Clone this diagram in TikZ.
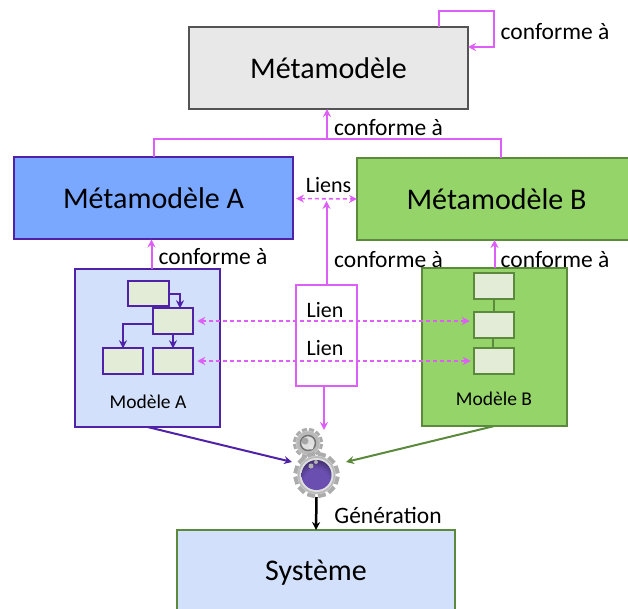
\documentclass[tikz,border=0pt]{standalone}
\usepackage{fontspec}
\setmainfont{Carlito}
\usepackage{tikz}
\usetikzlibrary{arrows.meta, calc}

\definecolor{violet}{HTML}{4F22A8}
\definecolor{vert}{HTML}{5C8A3C}
\definecolor{rose}{HTML}{DE5FF7}
\definecolor{bleuA}{HTML}{7AA7FF}
\definecolor{vertB}{HTML}{95D468}
\definecolor{bleuclair}{HTML}{D2E0FB}
\definecolor{vertclair}{HTML}{E2ECD6}
\definecolor{nuit}{HTML}{6A4FB0}
\definecolor{nuitnoire}{HTML}{0E0A18}

\pgfdeclareradialshading{disque}{\pgfpoint{0bp}{-16bp}}{%
    color(0bp)=(nuit); color(22bp)=(nuit); color(50bp)=(nuitnoire); color(80bp)=(black)}

\tikzset{
    boite/.style={draw, line width=2pt, inner sep=0pt, outer sep=0pt},
    grande/.style={boite, minimum width=279pt, minimum height=82pt, font=\fontsize{30}{32}\selectfont},
    modele/.style={boite, minimum width=145pt, minimum height=158pt},
    petite/.style={boite, fill=vertclair, minimum width=40.5pt, minimum height=25.5pt},
    etiquette/.style={inner sep=0pt, font=\fontsize{23.5}{26}\selectfont},
    legende/.style={inner sep=0pt, font=\fontsize{19.5}{22}\selectfont},
    fleche/.style={line width=2pt, -{Stealth[length=8pt,width=8pt]}},
    lienrose/.style={fleche, rose},
    pointille/.style={line width=1.6pt, rose, dash pattern=on 4pt off 3pt, {Stealth[length=8pt,width=8pt]}-{Stealth[length=8pt,width=8pt]}},
}

% une roue dentee: centre, rayon des dents, rayon du corps
\newcommand{\roue}[3]{
    \foreach \a in {0,30,...,330}
        \fill[gray!65, rotate around={\a+15:(#1)}] ($(#1)+(-#2*0.17,-#2)$) rectangle ($(#1)+(#2*0.17,0)$);
    \fill[gray!55, draw=gray!35] (#1) circle (#3 pt);
}

\begin{document}
\begin{tikzpicture}[x=1pt, y=-1pt]
    \clip (0,0) rectangle (628,609);

    % les metamodeles
    \node[grande, draw=black!67, fill=black!9] (meta) at (328.5,68) {\raisebox{-1pt}{Métamodèle}};
    \node[grande, draw=violet, fill=bleuA] (metaA) at (153.5,198.5) {Métamodèle A};
    \node[grande, draw=vert, fill=vertB] (metaB) at (496.5,199) {Métamodèle B};

    % les modeles
    \node[modele, draw=violet, fill=bleuclair] (modA) at (147.5,348) {};
    \node[modele, draw=vert, fill=vertB] (modB) at (494.5,347) {};
    \node[legende] (nomA) at (148,402) {Modèle A};
    \node[legende] (nomB) at (494,399) {Modèle B};

    \node[petite, draw=violet] (a1) at (148.5,293.5) {};
    \node[petite, draw=violet] (a2) at (173,321) {};
    \node[petite, draw=violet] (a3) at (123,361) {};
    \node[petite, draw=violet] (a4) at (173,361) {};

    \node[petite, draw=vert] (b1) at (494,286) {};
    \node[petite, draw=vert] (b2) at (494,325) {};
    \node[petite, draw=vert] (b3) at (494,361) {};

    % le lien
    \node[boite, draw=rose, fill=white, minimum width=61pt, minimum height=101pt] (lien) at (326.5,335.5) {};
    \node[etiquette, font=\fontsize{22}{24}\selectfont] (lien1) at (325,310) {Lien};
    \node[etiquette, font=\fontsize{22}{24}\selectfont] (lien2) at (325,348) {Lien};

    \node[boite, draw=vert, fill=bleuclair, minimum width=278pt, minimum height=100pt] (systeme) at (316,580) {};
    \node[inner sep=0pt, font=\fontsize{30}{32}\selectfont] (nomsys) at (316,573) {Système};

    % l'engrenage
    \node[circle, minimum size=44pt, inner sep=0pt, outer sep=0pt] (engrenage) at (316.5,475) {};
    \coordinate (petiteroue) at (308,443);
    \roue{petiteroue}{15}{12}
    \draw[black!55, line width=1.5pt, fill=gray!25] (petiteroue) circle (7.5pt);
    \fill[gray!70] (305,441) circle (3.5pt);
    \fill[gray!20] (311,447) circle (2.5pt);
    \roue{engrenage}{23}{19}
    \fill[gray!25] (engrenage) circle (17pt);
    \shade[shading=disque] (engrenage) circle (15pt);
    \fill[gray!60] (311,466) circle (2.5pt);
    \fill[gray!60] (316,462) circle (2pt);

    % conforme a
    \coordinate (boucle1) at (438.5,11);
    \coordinate (boucle2) at (494,47);
    \coordinate (jonction) at (327,139);
    \draw[lienrose] (boucle1 |- meta.north) -- (boucle1) -| (boucle2) -- (boucle2 -| meta.east);
    \draw[lienrose] (jonction) -- (jonction |- meta.south);
    \draw[rose, line width=2pt] (metaA.north) |- (jonction);
    \draw[rose, line width=2pt] ([xshift=4pt]metaB.north) |- (jonction);
    \draw[lienrose] ([xshift=4pt]modA.north) -- ([xshift=-2pt]metaA.south);
    \draw[lienrose] (modB.north) -- (modB.north |- metaB.south);
    \coordinate (hautlien) at (326.5,201);
    \draw[lienrose] (lien.north) -- (hautlien);

    \node[etiquette] (conf1) at (555,32) {conforme à};
    \node[etiquette] (conf2) at (388.5,128) {conforme à};
    \node[etiquette] (conf3) at (213,257) {conforme à};
    \node[etiquette] (conf4) at (388.5,260) {conforme à};
    \node[etiquette] (conf5) at (555,260) {conforme à};

    % les liens
    \node[etiquette, font=\fontsize{22}{24}\selectfont] (liens) at (328.5,185) {Liens};
    \draw[pointille, shorten <=3pt] (metaA.east) -- (metaB.west);
    \draw[pointille, shorten <=4pt, shorten >=4pt] (a2.east) -- (a2.east -| b2.west);
    \draw[pointille, shorten <=4pt, shorten >=3pt] (a4.east) -- (b3.west);

    % dans le modele A
    \draw[fleche, violet] (a1.east) -| (a2.north -| 180,0);
    \draw[fleche, violet] (a2.west |- 0,324) -| (a3.north);
    \draw[fleche, violet] (a2.south) -- (a4.north);

    % dans le modele B
    \draw[vert, line width=2pt] (b1.south) -- (b1.south |- b2.north);
    \draw[vert, line width=2pt] ([xshift=-1pt]b2.south) -- ([xshift=-1pt]b3.north);

    % vers l'engrenage
    \coordinate (entreeA) at (292,462);
    \coordinate (entreeB) at (346,462);
    \coordinate (entreeL) at (324,430);
    \draw[fleche, violet] (modA.south) -- (entreeA);
    \draw[fleche, vert] (modB.south) -- (entreeB);
    \draw[lienrose] ([xshift=-2.5pt]lien.south) -- (entreeL);
    \draw[fleche, black, line width=2.5pt] (engrenage.south) -- (systeme.north);
    \node[etiquette] (gen) at (388,515) {Génération};
\end{tikzpicture}
\end{document}
